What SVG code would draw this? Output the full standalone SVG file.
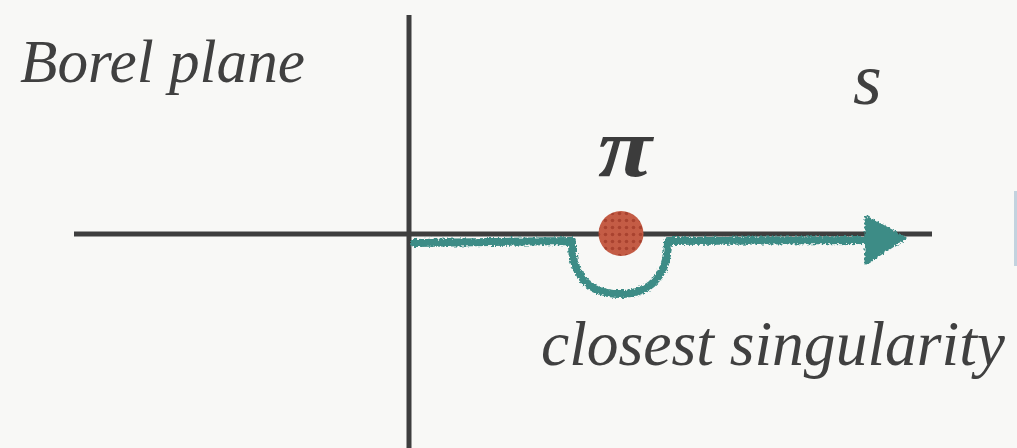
<svg xmlns="http://www.w3.org/2000/svg" width="1017" height="448" viewBox="0 0 1017 448">
  <style>
    .axis { stroke: #3e3e3e; stroke-width: 5; fill: none; }
    .lbl { font-family: "Liberation Serif", "DejaVu Serif", serif; font-style: italic; fill: #404040; }
    .teal { stroke: #3d8c86; fill: none; stroke-width: 8; stroke-linecap: round; stroke-linejoin: round; }
  </style>
  <defs>
    <filter id="rough" x="-5%" y="-20%" width="110%" height="140%">
      <feTurbulence type="fractalNoise" baseFrequency="0.45" numOctaves="2" seed="3" result="n"/>
      <feDisplacementMap in="SourceGraphic" in2="n" scale="5" xChannelSelector="R" yChannelSelector="G"/>
    </filter>
    <pattern id="dots" width="7" height="7" patternUnits="userSpaceOnUse">
      <rect width="7" height="7" fill="#c45c45"/>
      <circle cx="3.5" cy="3.5" r="1.8" fill="#a9422f"/>
    </pattern>
  </defs>
  <rect width="1017" height="448" fill="#f8f8f6"/>
  <rect x="1014" y="191" width="3" height="75" fill="#c3d3df"/>

  <g id="axes">
    <line class="axis" x1="409" y1="15" x2="409" y2="448"/>
    <line class="axis" x1="74" y1="234" x2="932" y2="234"/>
  </g>

  <g id="connectors">
    <g filter="url(#rough)">
      <path class="teal" d="M414,243 L572,241 C571,276 590,294 620,294 C650,294 668,276 668,241 L872,240"/>
      <polygon points="866,217 905,238 866,263" fill="#3d8c86" stroke="#3d8c86" stroke-width="3" stroke-linejoin="round"/>
    </g>
  </g>

  <g id="singularity">
    <circle cx="621" cy="233.5" r="22.5" fill="url(#dots)"/>
  </g>

  <g id="labels">
    <text class="lbl" x="20" y="82" font-size="62" textLength="285" lengthAdjust="spacingAndGlyphs">Borel plane</text>
    <text class="lbl" x="853" y="104" font-size="74">s</text>
    <text x="598" y="176" font-family="Liberation Serif, DejaVu Serif, serif" font-style="italic" font-weight="bold" font-size="84" fill="#3c3c3c" textLength="54" lengthAdjust="spacingAndGlyphs">π</text>
    <text class="lbl" x="541" y="365" font-size="64" textLength="464" lengthAdjust="spacingAndGlyphs">closest singularity</text>
  </g>
</svg>
